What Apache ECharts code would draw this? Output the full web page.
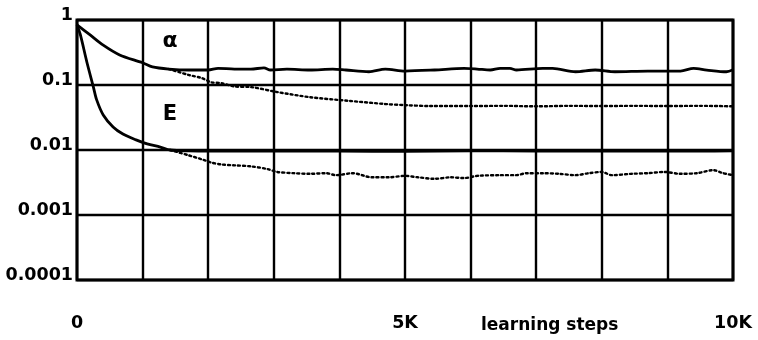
<!DOCTYPE html>
<html>
<head>
<meta charset="utf-8">
<script src="https://cdn.jsdelivr.net/npm/echarts@6/dist/echarts.min.js"></script>
<style>html,body{margin:0;padding:0;background:#fff}#c{width:758px;height:340px}</style>
</head>
<body>
<div id="c"></div>
<script>
// ---- data ----
var yTickLabels = ['0.0001', '0.001', '0.01', '0.1', '1'];
var xTickLabels = {0: '0', 5000: '5K', 10000: '10K'};
var xAxisTitle = 'learning steps';
var curveLabels = ['α', 'E'];

var alphaSolidX = [0, 200, 400, 650, 1000, 1150, 1400, 1700, 2000, 2150, 2400, 2650, 2850, 2950, 3200, 3550, 3900, 4100, 4450, 4700, 5000, 5450, 5900, 6100, 6300, 6450, 6600, 6700, 7100, 7250, 7600, 7900, 8200, 8700, 9200, 9400, 9600, 9900, 10000];
var alphaSolidY = [0.84, 0.59, 0.41, 0.29, 0.22, 0.19, 0.176, 0.17, 0.17, 0.18, 0.176, 0.176, 0.183, 0.17, 0.176, 0.17, 0.176, 0.17, 0.16, 0.176, 0.164, 0.17, 0.18, 0.176, 0.17, 0.18, 0.18, 0.17, 0.18, 0.18, 0.16, 0.17, 0.16, 0.164, 0.164, 0.18, 0.17, 0.16, 0.172];

var alphaDotX = [1400, 1700, 1900, 2050, 2200, 2400, 2650, 3050, 3550, 4150, 4700, 5000, 5400, 6000, 6500, 7000, 7500, 8000, 8500, 9000, 9500, 10000];
var alphaDotY = [0.176, 0.143, 0.128, 0.11, 0.107, 0.095, 0.093, 0.078, 0.065, 0.057, 0.051, 0.049, 0.0475, 0.0475, 0.0478, 0.047, 0.0478, 0.0475, 0.0478, 0.0475, 0.0478, 0.047];

var errSolidX = [0, 50, 150, 250, 300, 400, 550, 700, 900, 1070, 1270, 1420, 1700, 2500, 3500, 4500, 5500, 6500, 7500, 8500, 9500, 10000];
var errSolidY = [0.84, 0.6, 0.226, 0.093, 0.059, 0.0346, 0.0226, 0.0176, 0.0143, 0.0124, 0.0111, 0.0100, 0.0097, 0.0096, 0.0097, 0.0095, 0.0096, 0.0097, 0.0096, 0.0097, 0.0096, 0.0097];

var errDotX = [1420, 1700, 1900, 2050, 2200, 2400, 2650, 2900, 3050, 3300, 3550, 3800, 3950, 4200, 4500, 4750, 5000, 5200, 5450, 5700, 5900, 6100, 6450, 6700, 6850, 7100, 7350, 7600, 7800, 8000, 8150, 8450, 8700, 8950, 9200, 9450, 9700, 9850, 10000];
var errDotY = [0.0100, 0.0083, 0.0072, 0.0064, 0.0060, 0.0058, 0.0056, 0.0051, 0.0046, 0.0044, 0.0043, 0.0044, 0.0041, 0.0044, 0.0038, 0.0038, 0.0040, 0.0038, 0.0036, 0.0038, 0.0037, 0.0040, 0.0041, 0.0041, 0.0044, 0.0044, 0.0043, 0.0041, 0.0044, 0.0046, 0.0041, 0.0043, 0.0044, 0.0046, 0.0043, 0.0044, 0.0049, 0.0044, 0.0041];

function zip(xs, ys) { return xs.map(function (x, i) { return [x, ys[i]]; }); }

var FONT = '"DejaVu Sans", sans-serif';
var chart = echarts.init(document.getElementById('c'), null, {renderer: 'canvas'});
var solid = {color: '#000', width: 2.8};
var dotted = {color: '#000', width: 2.4, type: [2, 3], cap: 'round'};

chart.setOption({
  animation: false,
  backgroundColor: '#fff',
  grid: {left: 77, right: 25, top: 20, bottom: 60, show: true, borderColor: '#000', borderWidth: 3, backgroundColor: 'transparent'},
  xAxis: {
    type: 'value', min: 0, max: 10000, interval: 1000,
    axisLine: {show: false}, axisTick: {show: false},
    splitLine: {show: true, lineStyle: {color: '#000', width: 2.4}},
    axisLabel: {
      margin: 34, color: '#000', fontFamily: FONT, fontWeight: 'bold', fontSize: 17.5,
      formatter: function (v) { return xTickLabels[v] !== undefined ? xTickLabels[v] : ''; }
    }
  },
  yAxis: {
    type: 'log', logBase: 10, min: 0.0001, max: 1,
    axisLine: {show: false}, axisTick: {show: false},
    splitLine: {show: true, lineStyle: {color: '#000', width: 2.4}},
    minorTick: {show: false}, minorSplitLine: {show: false},
    axisLabel: {
      margin: 4, color: '#000', fontFamily: FONT, fontWeight: 'bold', fontSize: 17.5,
      verticalAlign: 'bottom', lineHeight: 10,
      formatter: function (v) {
        var k = Math.round(Math.log(v) / Math.LN10) + 4;
        return yTickLabels[k] !== undefined ? yTickLabels[k] : '';
      }
    }
  },
  graphic: [
    {type: 'text', left: 481, top: 317, style: {text: xAxisTitle, fill: '#000', font: 'bold 17px ' + FONT}},
    {type: 'text', x: 170, y: 41, style: {text: curveLabels[0], fill: '#000', font: 'bold 22px ' + FONT, textAlign: 'center', textVerticalAlign: 'middle'}},
    {type: 'text', x: 170, y: 115, style: {text: curveLabels[1], fill: '#000', font: 'bold 21px ' + FONT, textAlign: 'center', textVerticalAlign: 'middle'}}
  ],
  series: [
    {type: 'line', data: zip(alphaDotX, alphaDotY), showSymbol: false, lineStyle: dotted, smooth: 0.3, z: 3},
    {type: 'line', data: zip(errDotX, errDotY), showSymbol: false, lineStyle: dotted, smooth: 0.3, z: 3},
    {type: 'line', data: zip(alphaSolidX, alphaSolidY), showSymbol: false, lineStyle: solid, smooth: 0.3, z: 4},
    {type: 'line', data: zip(errSolidX, errSolidY), showSymbol: false, lineStyle: solid, smooth: 0.3, z: 4}
  ]
});
</script>
</body>
</html>
